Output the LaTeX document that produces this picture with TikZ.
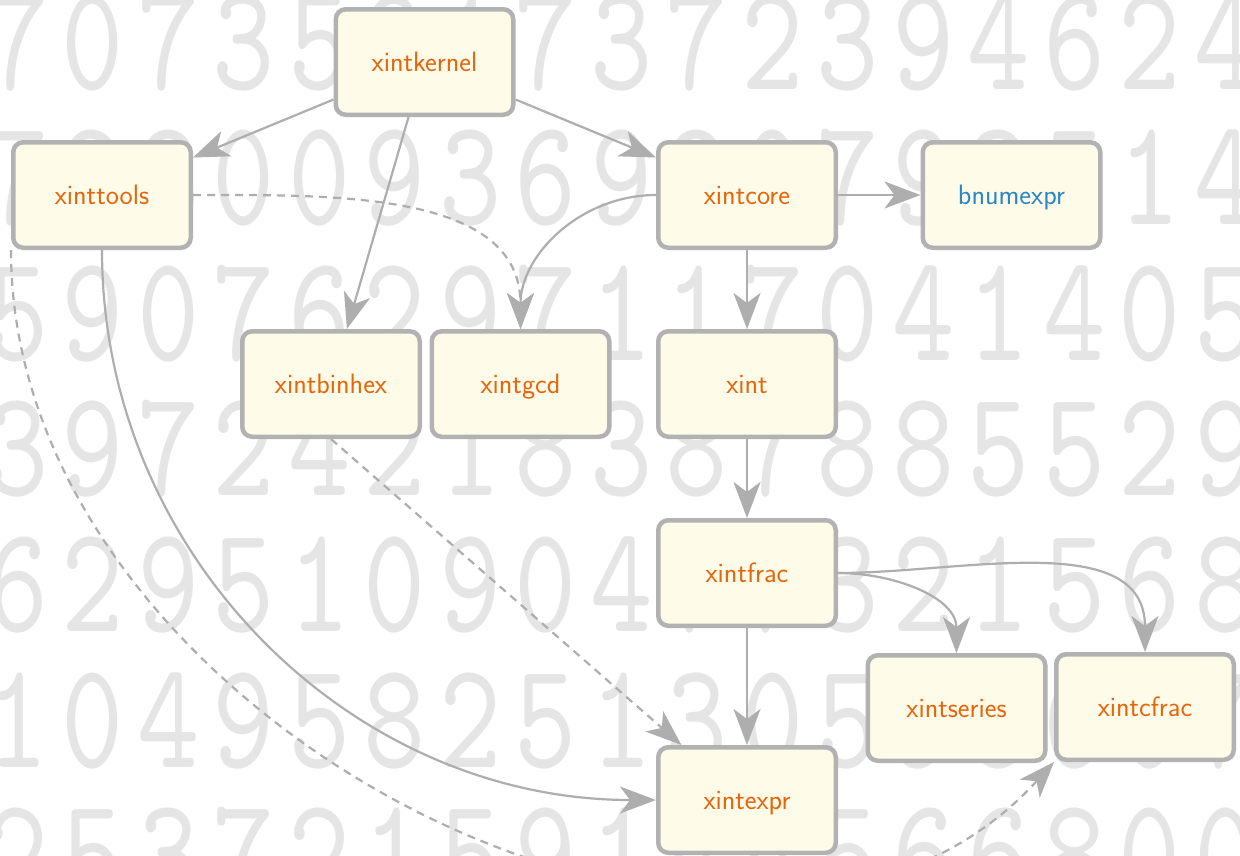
\documentclass[tikz,border=0pt]{standalone}
\usepackage{fontspec}
\newfontfamily\bgdigits{lmmono10-regular.otf}[FakeStretch=0.78]
\usetikzlibrary{arrows.meta}
\definecolor{boxfill}{RGB}{255,251,233}
\definecolor{boxline}{RGB}{178,178,178}
\definecolor{edgecol}{RGB}{174,174,174}
\definecolor{pkgorange}{RGB}{230,101,10}
\definecolor{pkgblue}{RGB}{43,134,197}
\definecolor{digitgray}{RGB}{229,229,229}
\begin{document}
\begin{tikzpicture}[x=1pt,y=1pt,
  pkg/.style={draw=boxline, line width=4.5pt, fill=boxfill, rounded corners=10pt,
     minimum width=177.5pt, minimum height=105.5pt, inner sep=0pt,
     font=\sffamily\fontsize{28}{33}\selectfont, text=pkgorange,
     text height=19pt, text depth=0pt},
  bluepkg/.style={pkg, text=pkgblue},
  dep/.style={draw=edgecol, line width=2.2pt, -{Stealth[length=36pt,width=27pt,inset=10pt]}},
  optdep/.style={dep, dash pattern=on 8pt off 6pt},
  bgdigit/.style={anchor=base, text=digitgray, inner sep=0pt, font=\bgdigits\fontsize{152}{152}\selectfont}
]
\useasboundingbox (0,0) rectangle (1240,-855);
\clip (0,0) rectangle (1240,-855);
\fill[white] (0,0) rectangle (1240,-855);
% background digits
\foreach \digits [count=\r from 0] in {
  {7,0,7,3,5,9,1,7,3,7,2,3,9,4,6,2,4},
  {7,2,8,0,0,9,3,6,9,8,0,7,9,3,5,1,4},
  {5,9,0,7,6,2,9,7,1,1,7,0,4,1,4,0,5},
  {3,9,7,2,4,2,1,8,3,8,7,8,8,5,5,2,9},
  {6,2,9,5,1,0,9,0,4,7,7,3,2,1,5,6,8},
  {1,0,4,9,5,8,2,5,1,3,0,5,9,8,6,0,7},
  {2,5,3,7,2,1,5,9,1,4,4,5,6,6,8,0,0}} {
  \foreach \d [count=\k from 0] in \digits {
    \node[bgdigit] (d-\r-\k) at ({17.5+75.5*\k},{-89-135.6*\r}) {\d};
  }
}
% packages
\node[pkg] (kernel) at (424.5,-62) {xintkernel};
\node[pkg] (tools) at (102,-195) {xinttools};
\node[pkg] (core) at (747,-195) {xintcore};
\node[bluepkg] (bnum) at (1011.5,-195) {bnumexpr};
\node[pkg] (binhex) at (331,-384) {xintbinhex};
\node[pkg] (gcd) at (520.5,-384) {xintgcd};
\node[pkg] (xint) at (747,-384) {xint};
\node[pkg] (frac) at (747,-573) {xintfrac};
\node[pkg] (series) at (956.5,-708) {xintseries};
\node[pkg] (cfrac) at (1145,-707) {xintcfrac};
\node[pkg] (expr) at (747,-800) {xintexpr};
% dependencies
\draw[dep] (kernel) -- (tools);
\draw[dep] (kernel) -- (binhex);
\draw[dep] (kernel) -- (core);
\draw[optdep] (tools.east) to[out=0,in=90] (gcd.north);
\draw[dep] (tools.south) to[out=-90,in=180] (expr.west);
\draw[optdep] (tools.south west) .. controls +(0,-480) and +(-300,-330) .. (cfrac.south west);
\draw[optdep] (binhex.south) -- (expr.140);
\draw[dep] (core.west) to[out=180,in=90] (gcd.north);
\draw[dep] (core) -- (bnum);
\draw[dep] (core) -- (xint);
\draw[dep] (xint) -- (frac);
\draw[dep] (frac) -- (expr);
\draw[dep] (frac.east) to[out=0,in=90] (series.north);
\draw[dep] (frac.east) to[out=0,in=90] (cfrac.north);
\end{tikzpicture}
\end{document}
